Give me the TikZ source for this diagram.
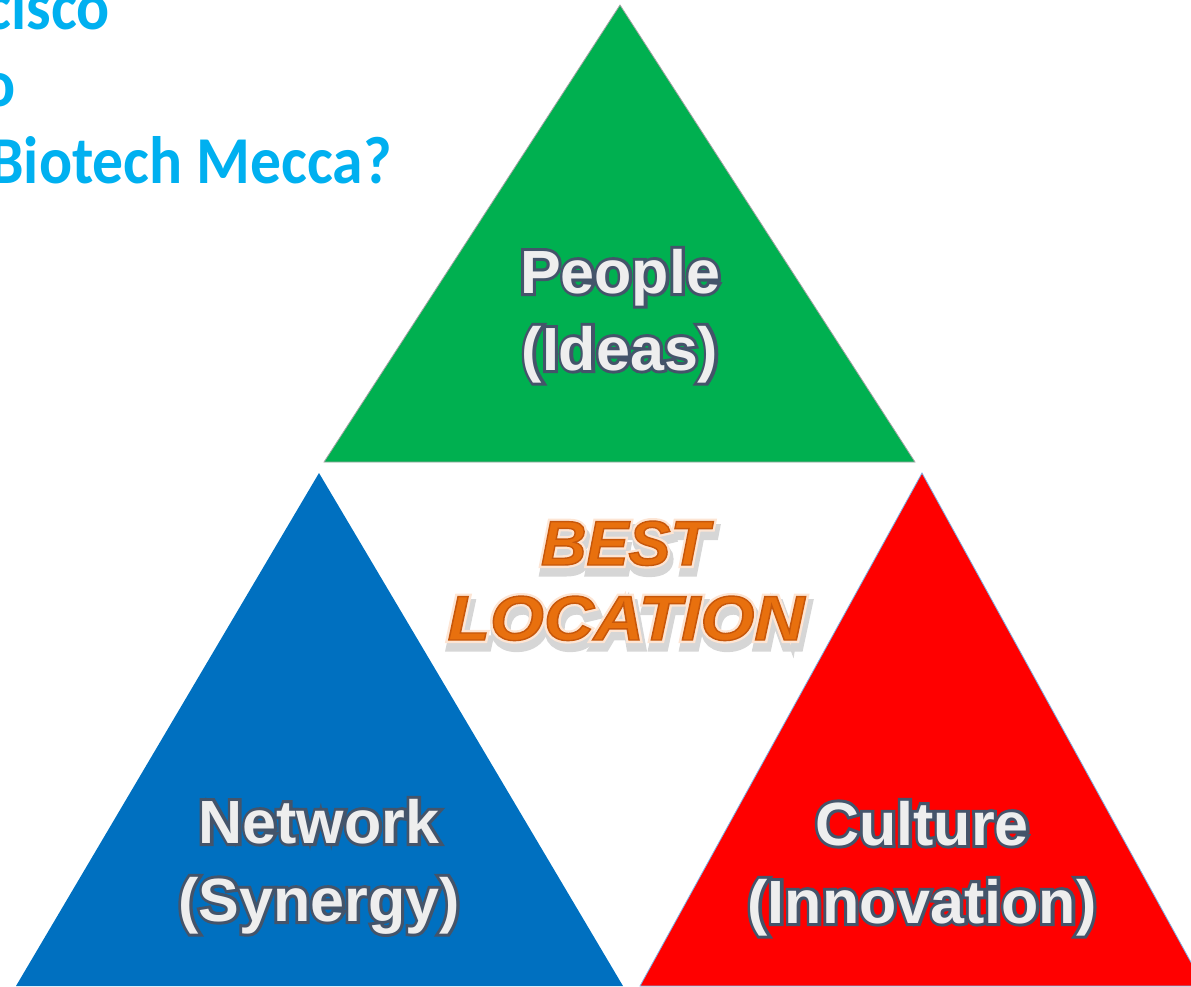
\documentclass[tikz,border=0pt]{standalone}
\usepackage{fontspec}
\setmainfont{Liberation Sans}
\newfontfamily\carlito{Carlito}
\definecolor{tgreen}{HTML}{00B050}
\definecolor{tblue}{HTML}{0070C0}
\definecolor{tred}{HTML}{FF0000}
\definecolor{titlecyan}{HTML}{00B0F0}
\definecolor{lblfill}{HTML}{EEEEEE}
\definecolor{orangefill}{HTML}{E8700E}
\definecolor{shadowgray}{HTML}{D6D6D6}
\definecolor{redline}{HTML}{7FB2E5}
\makeatletter
% stroke-only glyph outline: colour #1, width #2
\newcommand\strk[3]{\pgfsys@invoke{q 1 Tr #2 w #1 RG}#3\pgfsys@invoke{Q}}
% fill and stroke in one pass
\newcommand\rim[3]{\pgfsys@invoke{q 2 Tr #2 w #1 RG}#3\pgfsys@invoke{Q}}
\makeatother
\newcommand\lblt[1]{\rlap{\strk{0.267 0.329 0.416}{6}{#1}}#1}
\newcommand\bestt[1]{%
  \rlap{\hspace{2pt}\raisebox{-7pt}{\color{shadowgray}\rim{0.84 0.84 0.84}{9}{#1}}}%
  \rlap{\strk{0.992 0.900 0.830}{6}{#1}}%
  \rim{0.78 0.34 0.04}{1.4}{#1}}
\tikzset{
  tri/.style={line width=0.8pt},
  lbl/.style={anchor=base, inner sep=0pt, text=lblfill,
    font=\fontsize{61}{72}\selectfont\bfseries},
  best/.style={anchor=base, inner sep=0pt, text=orangefill,
    font=\fontsize{63}{75}\selectfont\bfseries\itshape},
  title/.style={anchor=base east, inner sep=0pt, text=titlecyan, xscale=0.92,
    font=\fontsize{67}{80}\selectfont\carlito\bfseries}
}
\begin{document}
\begin{tikzpicture}[x=1pt,y=-1pt]
\useasboundingbox (0,0) rectangle (1191,986);
\clip (0,0) rectangle (1191,986);
% triangles
\filldraw[tri, fill=tgreen, draw=black!35] (620,5) -- (915,462) -- (324,462) -- cycle;
\fill[tblue] (319,473) -- (623,986) -- (16,986) -- cycle;
\filldraw[tri, fill=tred, draw=redline] (922,473) -- (1204,986) -- (640,986) -- cycle;
% title
\node[title] (t1) at (110,29) {cisco};
\node[title] (t2) at (16,106) {o};
\node[title] (t3) at (392,183) {Biotech Mecca?};
% labels
\node[lbl] (p1) at (620,293) {\lblt{People}};
\node[lbl] (p2) at (620,370) {\lblt{(Ideas)}};
\node[lbl] (n1) at (319,843) {\lblt{Network}};
\node[lbl] (n2) at (319,921) {\lblt{(Synergy)}};
\node[lbl] (c1) at (922,845) {\lblt{Culture}};
\node[lbl] (c2) at (922,923) {\lblt{(Innovation)}};
% best location
\node[best] (b1) at (625,565) {\bestt{BEST}};
\node[best, xscale=1.1] (b2) at (626,640) {\bestt{LOCATION}};
\end{tikzpicture}
\end{document}
